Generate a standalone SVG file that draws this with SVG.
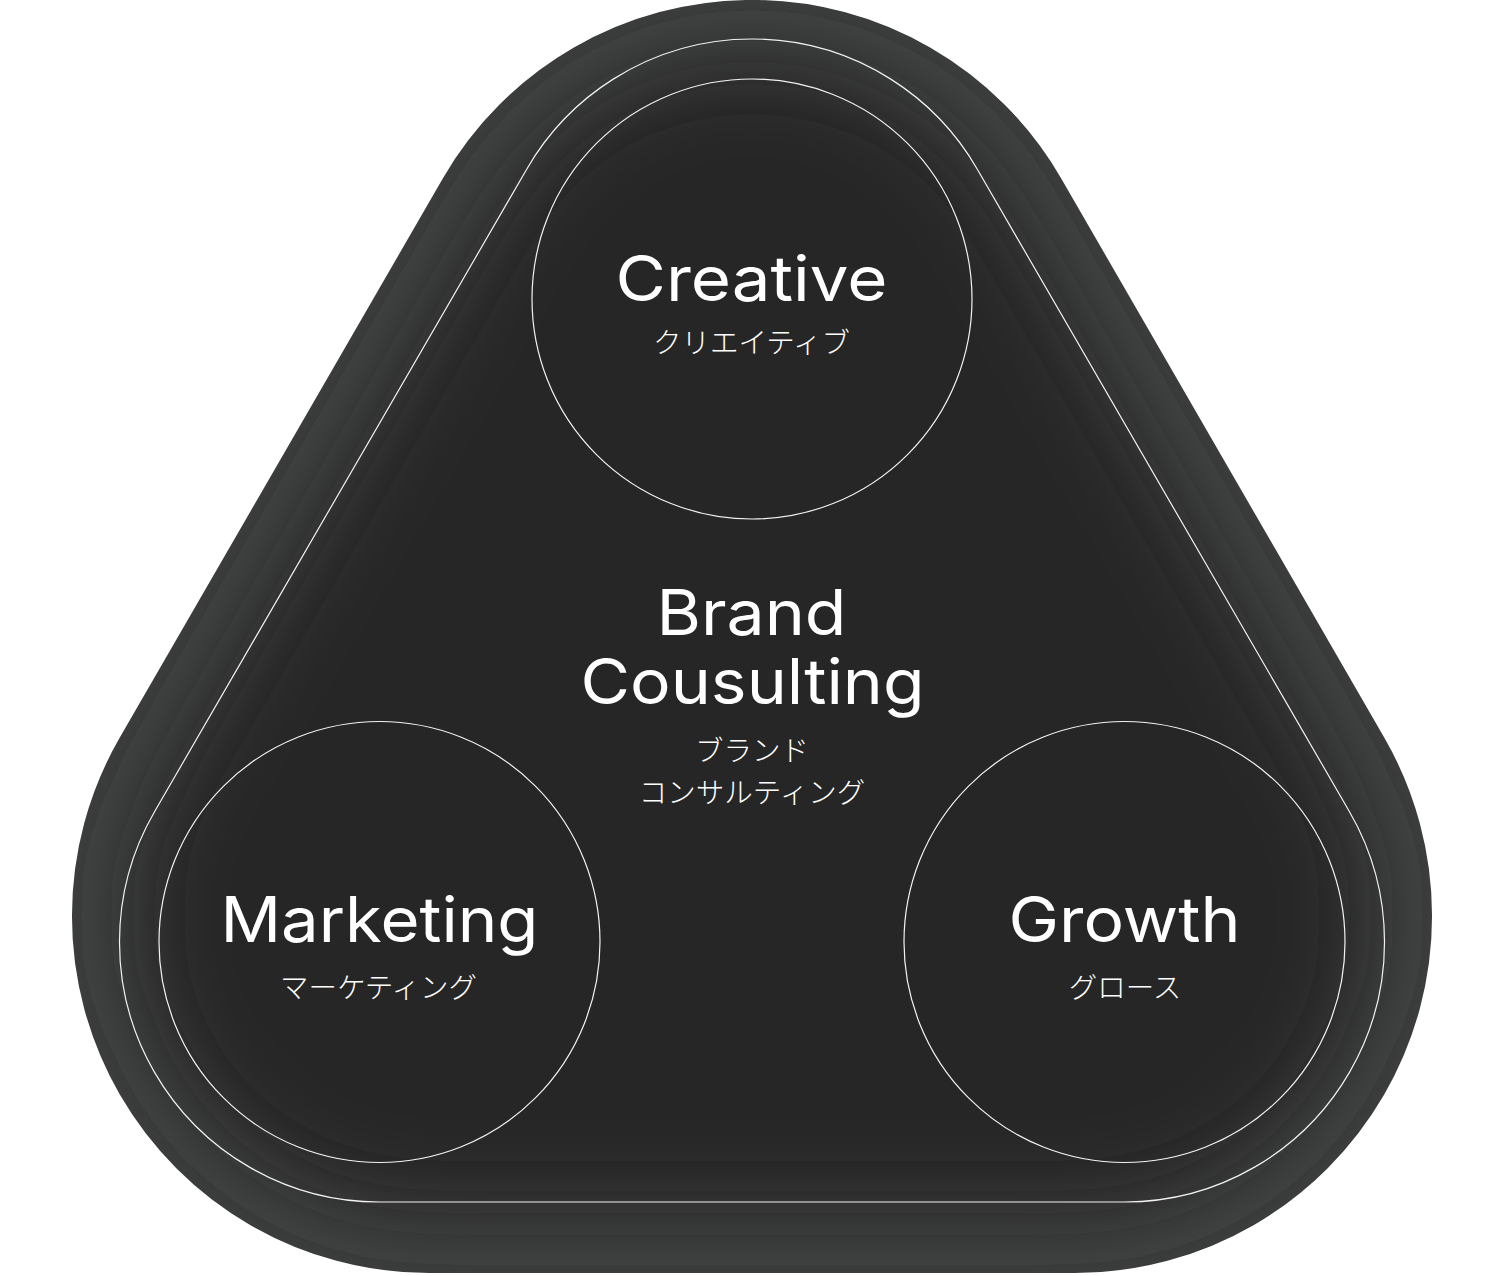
<svg xmlns="http://www.w3.org/2000/svg" width="1504" height="1276" viewBox="0 0 1504 1276">
  <style>
    .ring { fill: none; stroke: #f2f2f2; stroke-width: 1.2; }
    .en { font-family: "Inter", "Lato", "Liberation Sans", sans-serif; font-size: 63px; font-weight: 400; fill: #ffffff; text-anchor: middle; }
    .jp { font-family: "Noto Sans CJK JP", "Noto Sans", sans-serif; font-size: 28.5px; font-weight: 300; fill: #ffffff; text-anchor: middle; }
  </style>
  <defs>
    <clipPath id="outerClip">
      <path d="M 442.8 178.5 A 357 357 0 0 1 1061.2 178.5 L 1384.2 737.5 A 357 357 0 0 1 1075 1273 L 429 1273 A 357 357 0 0 1 119.8 737.5 Z"/>
    </clipPath>
    <filter id="soft" x="-20%" y="-20%" width="140%" height="140%">
      <feGaussianBlur stdDeviation="42"/>
    </filter>
  </defs>

  <rect x="0" y="0" width="1504" height="1276" fill="#ffffff"/>

  <g id="background">
    <path d="M 442.8 178.5 A 357 357 0 0 1 1061.2 178.5 L 1384.2 737.5 A 357 357 0 0 1 1075 1273 L 429 1273 A 357 357 0 0 1 119.8 737.5 Z" fill="#3f4140"/>
    <g clip-path="url(#outerClip)">
      <path filter="url(#soft)" d="M 494.8 208.5 A 297 297 0 0 1 1009.2 208.5 L 1332.2 767.5 A 297 297 0 0 1 1075 1213 L 429 1213 A 297 297 0 0 1 171.8 767.5 Z" fill="#262827"/>
    </g>
    <path class="ring" d="M 527 168.7 A 260 260 0 0 1 977 168.7 L 1349.5 811.7 A 260 260 0 0 1 1124.5 1202 L 379.5 1202 A 260 260 0 0 1 154.5 811.7 Z"/>
  </g>

  <g id="connectors"></g>

  <g id="node-creative">
    <circle class="ring" cx="752" cy="299" r="220"/>
    <text class="en" x="751.5" y="301" textLength="272" lengthAdjust="spacingAndGlyphs">Creative</text>
    <text class="jp" x="751.5" y="353">クリエイティブ</text>
  </g>

  <g id="node-brand">
    <text class="en" x="751.5" y="635" textLength="190" lengthAdjust="spacingAndGlyphs">Brand</text>
    <text class="en" x="752.5" y="704" textLength="344" lengthAdjust="spacingAndGlyphs">Cousulting</text>
    <text class="jp" x="752" y="761">ブランド</text>
    <text class="jp" x="752" y="803">コンサルティング</text>
  </g>

  <g id="node-marketing">
    <circle class="ring" cx="379.5" cy="942" r="220.5"/>
    <text class="en" x="379.5" y="942" textLength="318" lengthAdjust="spacingAndGlyphs">Marketing</text>
    <text class="jp" x="378.5" y="997.5">マーケティング</text>
  </g>

  <g id="node-growth">
    <circle class="ring" cx="1124.5" cy="942" r="220.5"/>
    <text class="en" x="1124.5" y="942" textLength="232" lengthAdjust="spacingAndGlyphs">Growth</text>
    <text class="jp" x="1125" y="997.5">グロース</text>
  </g>
</svg>
